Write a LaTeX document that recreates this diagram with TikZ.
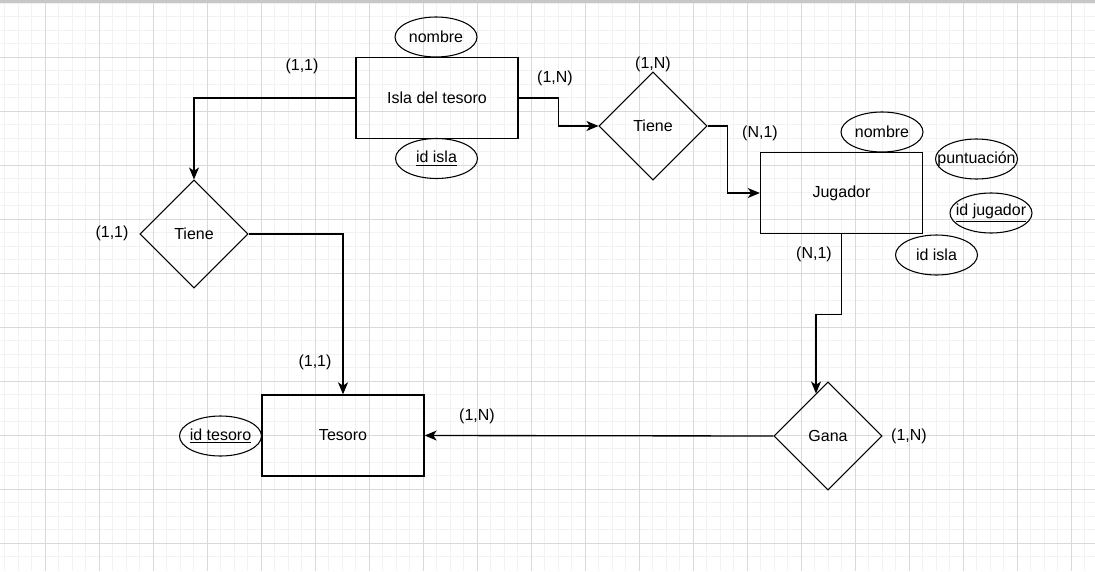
\documentclass[tikz,border=0pt]{standalone}
\usepackage{fontspec}
\setmainfont{Liberation Sans}
\usetikzlibrary{shapes.geometric,arrows.meta,calc}
\newcommand{\attxt}[1]{\makebox[0pt]{#1}}
\begin{document}
\begin{tikzpicture}[x=0.75pt,y=-0.75pt,
  every node/.style={font=\fontsize{12}{14}\selectfont},
  entidad/.style={draw,line width=1pt,minimum width=121.5pt,minimum height=60.75pt,inner sep=0pt},
  atrib/.style={draw,ellipse,line width=0.8pt,minimum width=61.5pt,minimum height=30pt,inner sep=0pt},
  relac/.style={draw,diamond,line width=0.8pt,minimum width=81pt,minimum height=81pt,inner sep=0pt},
  flecha/.style={line width=1pt,-{Stealth[length=9pt,width=7.5pt,inset=2.5pt]}}]
\useasboundingbox (0,0) rectangle (1095,571);
\fill[white] (0,0) rectangle (1095,571);
% rejilla
\foreach \i in {0,...,80} \draw[black!5,line width=0.75pt] ({4.5+13.5*\i},3) -- ({4.5+13.5*\i},571);
\foreach \j in {0,...,41} \draw[black!5,line width=0.75pt] (0,{3+13.5*\j}) -- (1095,{3+13.5*\j});
\foreach \i in {0,...,19} \draw[black!15,line width=0.75pt] ({45+54*\i},3) -- ({45+54*\i},571);
\foreach \j in {0,...,9} \draw[black!15,line width=0.75pt] (0,{57+54*\j}) -- (1095,{57+54*\j});
\fill[black!22] (0,0) rectangle (1095,3);
% entidades y relaciones
\node[entidad] (isla) at (437,98) {Isla del tesoro};
\node[atrib] (nomisla) at (436,37) {\attxt{nombre}};
\node[atrib] (idisla) at (436.5,158.5) {\attxt{\underline{id isla}}};
\node[relac] (tiene1) at (653,126) {Tiene};
\node[entidad] (jugador) at (841.5,193) {Jugador};
\node[atrib] (nomjug) at (882,132) {\attxt{nombre}};
\node[atrib] (puntos) at (976.5,159) {\attxt{puntuación}};
\node[atrib] (idjug) at (991,213) {\attxt{\underline{id jugador}}};
\node[atrib] (idislajug) at (936.5,255) {\attxt{id isla}};
\node[relac] (gana) at (828,436) {Gana};
\node[entidad] (tesoro) at (343,435.5) {Tesoro};
\node[atrib] (idtesoro) at (220.5,436) {\attxt{\underline{id tesoro}}};
\node[relac] (tiene2) at (194,234) {Tiene};
% cardinalidades
\node (c1) at (302,66) {(1,1)};
\node (c2) at (555,78) {(1,N)};
\node (c3) at (653,64) {(1,N)};
\node (c4) at (760,133) {(N,1)};
\node (c5) at (814,254) {(N,1)};
\node (c6) at (909,436) {(1,N)};
\node (c7) at (477,416) {(1,N)};
\node (c8) at (315,362) {(1,1)};
\node (c9) at (112,233) {(1,1)};
% conexiones
\draw[flecha] (isla.west) -| (tiene2.north);
\draw[flecha] (tiene2.east) -| (tesoro.north);
\draw[flecha] (isla.east) -- ++(40,0) |- (tiene1.west);
\draw[flecha] (tiene1.east) -- ++(20,0) |- (jugador.west);
\draw[flecha] (jugador.south) -- ++(0,80) -| ($(gana.north)!0.22!(gana.west)$);
\draw[flecha] (gana.west) -- (tesoro.east);
\end{tikzpicture}
\end{document}
